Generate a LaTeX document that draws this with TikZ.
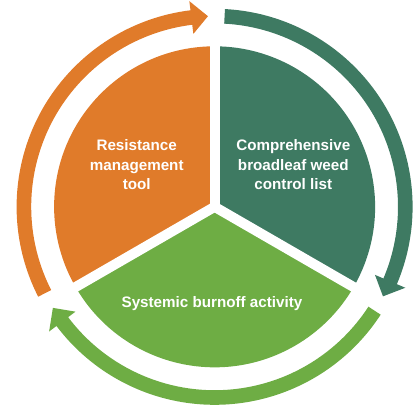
\documentclass[tikz,border=0pt]{standalone}
\usepackage{fontspec}
\setmainfont{Liberation Sans}
\definecolor{orangeC}{RGB}{224,123,42}
\definecolor{dgreenC}{RGB}{62,122,98}
\definecolor{lgreenC}{RGB}{110,173,68}
\newcommand\ringarrow[4]{%
  \fill[#1] (#2:198) arc[start angle=#2, end angle=#3, radius=198]
    -- (#3:207.2) -- (#4:190.7) -- (#3:174.2) -- (#3:183.4)
    arc[start angle=#3, end angle=#2, radius=183.4] -- cycle;}
\tikzset{
  label/.style={text=white, font=\bfseries\fontsize{15.2}{19.5}\selectfont, align=center, inner sep=0pt},
  gap/.style={white, line width=10}
}
\begin{document}
\begin{tikzpicture}[x=1pt,y=1pt]
\useasboundingbox (0,0) rectangle (417,408);
\begin{scope}[shift={(214.6,201.2)}]
  % sectors
  \fill[orangeC] (0,0) -- (90:160.5) arc[start angle=90, end angle=210, radius=160.5] -- cycle;
  \fill[dgreenC] (0,0) -- (-30:160.5) arc[start angle=-30, end angle=90, radius=160.5] -- cycle;
  \fill[lgreenC] (0,0) -- (210:160.5) arc[start angle=210, end angle=330, radius=160.5] -- cycle;
  \coordinate (c) at (0,0);
  \coordinate (g1) at (90:170);
  \coordinate (g2) at (210:170);
  \coordinate (g3) at (330:170);
  \draw[gap] (c) -- (g1);
  \draw[gap] (c) -- (g2);
  \draw[gap] (c) -- (g3);
  % ring arrows
  \ringarrow{orangeC}{207}{97}{92}
  \ringarrow{dgreenC}{87}{-23}{-28}
  \ringarrow{lgreenC}{-33}{-143}{-148}
  % labels
  \node[label] (t1) at (-77.9,41.8) {Resistance\\management\\tool};
  \node[label] (t2) at (78.7,41.8) {Comprehensive\\broadleaf weed\\control list};
  \node[label] (t3) at (-2.6,-97.2) {Systemic burnoff activity};
\end{scope}
\end{tikzpicture}
\end{document}
